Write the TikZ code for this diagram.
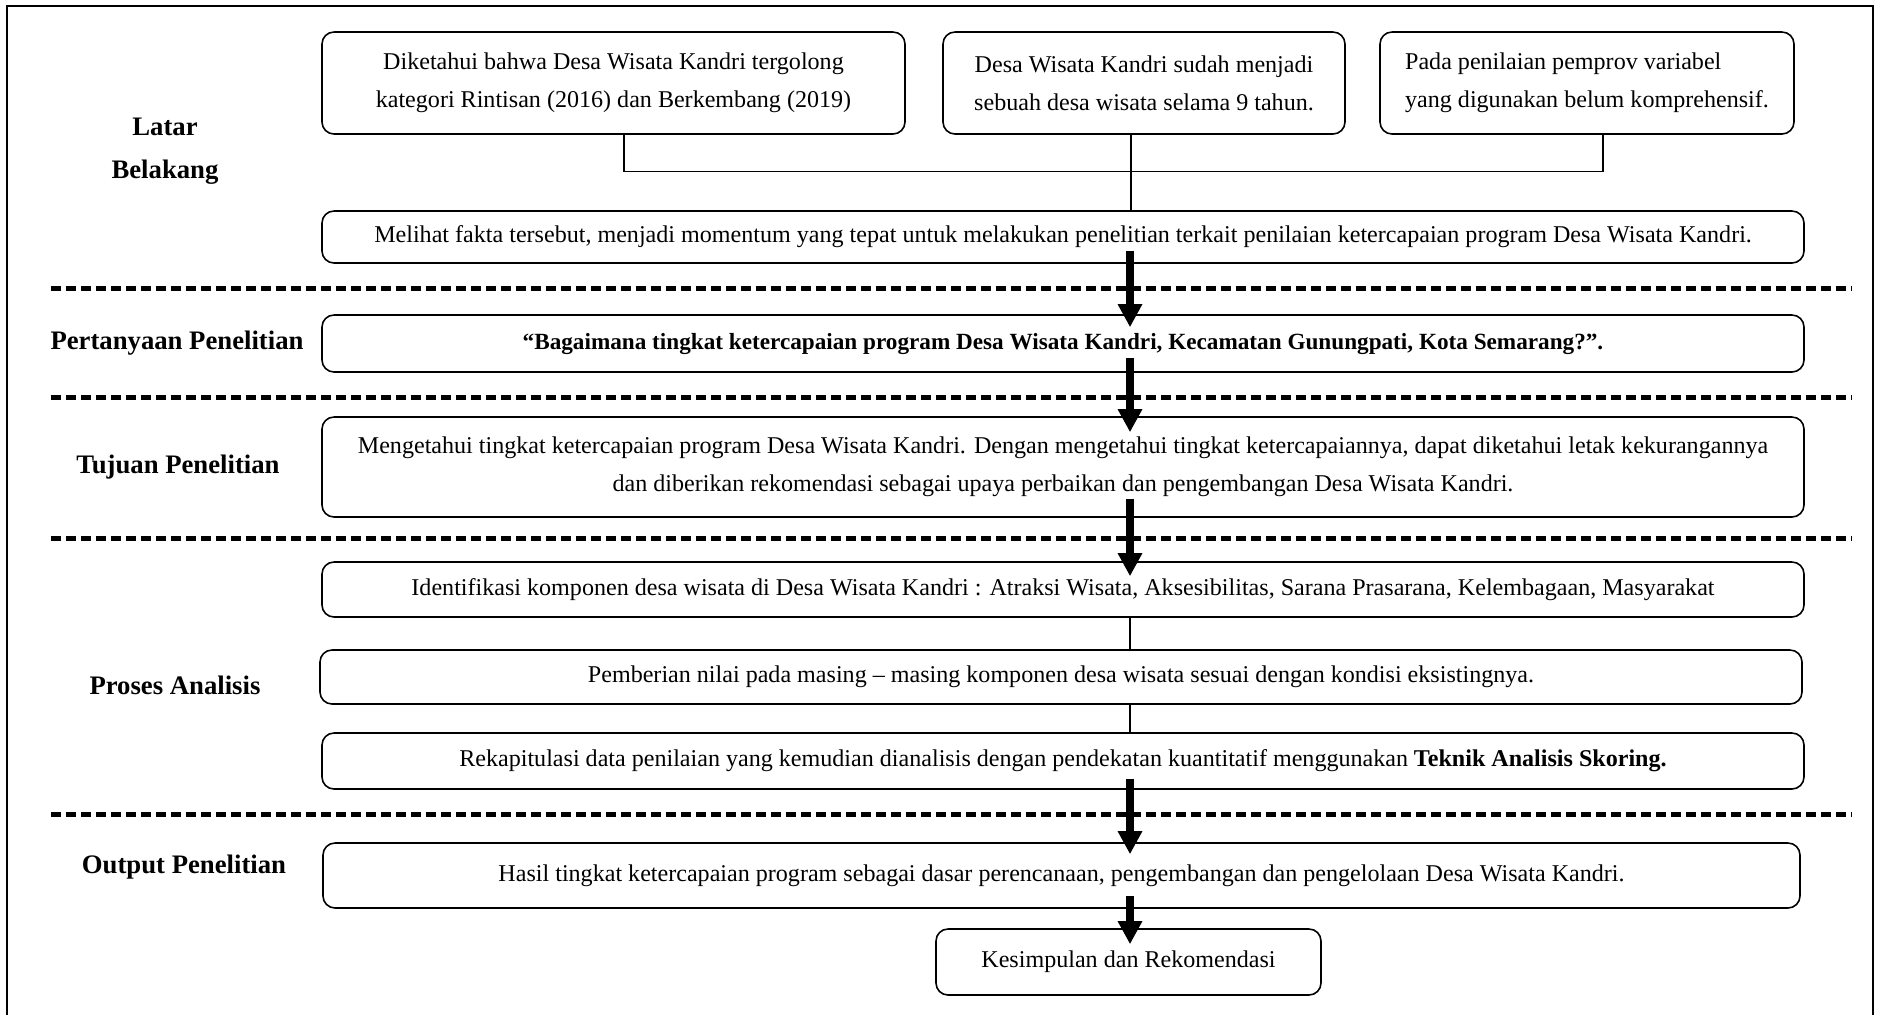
\documentclass[tikz,border=0pt]{standalone}
\usepackage{fontspec}
\setmainfont{Liberation Serif}
\usetikzlibrary{arrows.meta,positioning,calc}

\begin{document}
\begin{tikzpicture}[x=1cm,y=1cm,
  box/.style={draw,line width=0.45pt,rounded corners=0.12cm,align=center,inner sep=0pt,
              font=\fontsize{6.85}{10.8}\selectfont},
  sidelabel/.style={align=center,font=\fontsize{7.6}{12.2}\selectfont\bfseries},
  link/.style={line width=0.35pt},
  bigarrow/.style={line width=0.08cm,-{Triangle[width=0.23cm,length=0.23cm]}},
  divider/.style={line width=0.05cm,dash pattern=on 0.105cm off 0.045cm}]
  \useasboundingbox (0,0) rectangle (18.81,-10.15);
  %% Frame
  \draw[line width=0.7pt] (0.07,-10.15) -- (0.07,-0.06) -- (18.73,-0.06) -- (18.73,-10.15);
  %% Dividers
  \draw[divider] (0.51,-2.88) -- (18.52,-2.88);
  \draw[divider] (0.51,-3.97) -- (18.52,-3.97);
  \draw[divider] (0.51,-5.38) -- (18.52,-5.38);
  \draw[divider] (0.51,-8.14) -- (18.52,-8.14);
  %% Side labels
  \node[sidelabel] (latar) at (1.65,-1.51) {Latar\\Belakang};
  \node[sidelabel] (tanyalbl) at (1.77,-3.43) {Pertanyaan Penelitian};
  \node[sidelabel] (tujuanlbl) at (1.78,-4.67) {Tujuan Penelitian};
  \node[sidelabel] (proseslbl) at (1.75,-6.85) {Proses Analisis};
  \node[sidelabel] (outputlbl) at (1.84,-8.67) {Output Penelitian};
  %% Latar Belakang
  \node[box,minimum width=5.83cm,minimum height=1.02cm] (fakta1) at (6.135,-0.83)
        {Diketahui bahwa Desa Wisata Kandri tergolong\\kategori Rintisan (2016) dan Berkembang (2019)};
  \node[box,minimum width=4.02cm,minimum height=1.02cm] (fakta2) at (11.44,-0.83)
        {Desa Wisata Kandri sudah menjadi\\sebuah desa wisata selama 9 tahun.};
  \node[box,align=left,minimum width=4.14cm,minimum height=1.02cm] (fakta3) at (15.87,-0.83)
        {Pada penilaian pemprov variabel\\yang digunakan belum komprehensif.};
  \node[box,minimum width=14.82cm,minimum height=0.52cm] (melihat) at (10.63,-2.37)
        {Melihat fakta tersebut, menjadi momentum yang tepat untuk melakukan penelitian terkait penilaian ketercapaian program Desa Wisata Kandri.};
  %% Pertanyaan and Tujuan
  \node[box,minimum width=14.82cm,minimum height=0.57cm,font=\fontsize{6.6}{10.8}\selectfont\bfseries] (tanya) at (10.63,-3.435)
        {“Bagaimana tingkat ketercapaian program Desa Wisata Kandri, Kecamatan Gunungpati, Kota Semarang?”.};
  \node[box,minimum width=14.82cm,minimum height=1.00cm] (tujuan) at (10.63,-4.67)
        {Mengetahui tingkat ketercapaian program Desa Wisata Kandri. Dengan mengetahui tingkat ketercapaiannya, dapat diketahui letak kekurangannya\\dan diberikan rekomendasi sebagai upaya perbaikan dan pengembangan Desa Wisata Kandri.};
  %% Proses Analisis
  \node[box,minimum width=14.82cm,minimum height=0.55cm] (identifikasi) at (10.63,-5.895)
        {Identifikasi komponen desa wisata di Desa Wisata Kandri : Atraksi Wisata, Aksesibilitas, Sarana Prasarana, Kelembagaan, Masyarakat};
  \node[box,minimum width=14.82cm,minimum height=0.54cm] (pemberian) at (10.61,-6.77)
        {Pemberian nilai pada masing – masing komponen desa wisata sesuai dengan kondisi eksistingnya.};
  \node[box,minimum width=14.82cm,minimum height=0.56cm] (rekap) at (10.63,-7.61)
        {Rekapitulasi data penilaian yang kemudian dianalisis dengan pendekatan kuantitatif menggunakan \textbf{Teknik Analisis Skoring.}};
  %% Output
  \node[box,minimum width=14.77cm,minimum height=0.65cm] (hasil) at (10.615,-8.755)
        {Hasil tingkat ketercapaian program sebagai dasar perencanaan, pengembangan dan pengelolaan Desa Wisata Kandri.};
  \node[box,minimum width=3.85cm,minimum height=0.66cm] (simpulan) at (11.285,-9.62)
        {Kesimpulan dan Rekomendasi};
  %% Thin links
  \draw[link] ([xshift=1.05mm]fakta1.south) -- ++(0,-0.37) -| ([xshift=1.6mm]fakta3.south);
  \draw[link] ([xshift=-1.3mm]fakta2.south) -- ([xshift=-1.3mm]fakta2.south |- melihat.north);
  \coordinate (spine) at (11.30,0);
  \draw[link] (spine |- identifikasi.south) -- (spine |- pemberian.north);
  \draw[link] (spine |- pemberian.south) -- (spine |- rekap.north);
  %% Thick arrows
  \draw[bigarrow] ([yshift=1.3mm]spine |- melihat.south) -- ([yshift=-1.3mm]spine |- tanya.north);
  \draw[bigarrow] ([yshift=1.5mm]spine |- tanya.south) -- ([yshift=-1.6mm]spine |- tujuan.north);
  \draw[bigarrow] ([yshift=1.9mm]spine |- tujuan.south) -- ([yshift=-1.5mm]spine |- identifikasi.north);
  \draw[bigarrow] ([yshift=1.1mm]spine |- rekap.south) -- ([yshift=-1.2mm]spine |- hasil.north);
  \draw[bigarrow] ([yshift=1.3mm]spine |- hasil.south) -- ([yshift=-1.6mm]spine |- simpulan.north);
\end{tikzpicture}
\end{document}
